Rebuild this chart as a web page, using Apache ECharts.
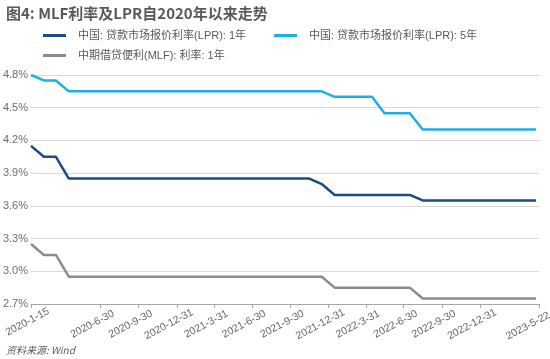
<!DOCTYPE html>
<html><head><meta charset="utf-8">
<script src="https://cdn.jsdelivr.net/npm/echarts@6/dist/echarts.min.js"></script>
<style>html,body{margin:0;padding:0;background:#fff}#c{width:550px;height:359px}</style>
</head><body><div id="c"></div>
<script>
const titleText = '图4: MLF利率及LPR自2020年以来走势';
const sourceText = '资料来源: Wind';
const seriesNames = ['中国: 贷款市场报价利率(LPR): 1年', '中国: 贷款市场报价利率(LPR): 5年', '中期借贷便利(MLF): 利率: 1年'];
const dates = [
 '2020-1-15','2020-2-15','2020-3-15','2020-4-15','2020-5-15','2020-6-15','2020-7-15','2020-8-15','2020-9-15','2020-10-15','2020-11-15','2020-12-15',
 '2021-1-15','2021-2-15','2021-3-15','2021-4-15','2021-5-15','2021-6-15','2021-7-15','2021-8-15','2021-9-15','2021-10-15','2021-11-15','2021-12-15',
 '2022-1-15','2022-2-15','2022-3-15','2022-4-15','2022-5-15','2022-6-15','2022-7-15','2022-8-15','2022-9-15','2022-10-15','2022-11-15','2022-12-15',
 '2023-1-15','2023-2-15','2023-3-15','2023-4-15','2023-5-15'];
const lpr1y = [4.15,4.05,4.05,3.85,3.85,3.85,3.85,3.85,3.85,3.85,3.85,3.85,
 3.85,3.85,3.85,3.85,3.85,3.85,3.85,3.85,3.85,3.85,3.85,3.80,
 3.70,3.70,3.70,3.70,3.70,3.70,3.70,3.65,3.65,3.65,3.65,3.65,
 3.65,3.65,3.65,3.65,3.65];
const lpr5y = [4.80,4.75,4.75,4.65,4.65,4.65,4.65,4.65,4.65,4.65,4.65,4.65,
 4.65,4.65,4.65,4.65,4.65,4.65,4.65,4.65,4.65,4.65,4.65,4.65,
 4.60,4.60,4.60,4.60,4.45,4.45,4.45,4.30,4.30,4.30,4.30,4.30,
 4.30,4.30,4.30,4.30,4.30];
const mlf1y = [3.25,3.15,3.15,2.95,2.95,2.95,2.95,2.95,2.95,2.95,2.95,2.95,
 2.95,2.95,2.95,2.95,2.95,2.95,2.95,2.95,2.95,2.95,2.95,2.95,
 2.85,2.85,2.85,2.85,2.85,2.85,2.85,2.75,2.75,2.75,2.75,2.75,
 2.75,2.75,2.75,2.75,2.75];
const tickLabels = ['2020-1-15','2020-6-30','2020-9-30','2020-12-31','2021-3-31','2021-6-30','2021-9-30','2021-12-31','2022-3-31','2022-6-30','2022-9-30','2022-12-31','2023-5-22'];
const yMin = 2.7, yMax = 4.8, yStep = 0.3;
const colors = ['#1b4a85', '#1eafe3', '#8c8c8c'];

function ts(s){const p=s.split('-').map(Number);return Date.UTC(p[0],p[1]-1,p[2]);}
const tickTs = tickLabels.map(ts);
const labelMap = {}; tickLabels.forEach((l,i)=>{labelMap[tickTs[i]]=l;});
function pairs(vals){return dates.map((d,i)=>[ts(d),vals[i]]);}

const font = '"Noto Sans CJK SC", "Noto Sans", sans-serif';
const mixFont = '"Liberation Sans", "Noto Sans CJK SC", sans-serif';
const chart = echarts.init(document.getElementById('c'), null, {renderer:'canvas'});
const legendPos = [{left:38, top:25},{left:269, top:25},{left:38, top:45}];
chart.setOption({
  animation:false,
  textStyle:{fontFamily:font},
  title:[
    {text:titleText, left:1, top:1, textStyle:{fontSize:15, fontWeight:'bold', color:'#595959', fontFamily:font}},
    {text:sourceText, left:1, top:340, textStyle:{fontSize:10, fontWeight:'normal', fontStyle:'italic', color:'#595959', fontFamily:font}}
  ],
  legend: seriesNames.map((n,i)=>({data:[n], left:legendPos[i].left, top:legendPos[i].top, icon:'rect', itemWidth:23, itemHeight:3, itemGap:10,
    textStyle:{fontSize:11, color:'#595959', fontFamily:mixFont, padding:[0,0,0,7]}})),
  grid:{left:31, right:11, top:75, bottom:55, containLabel:false, outerBoundsMode:'none'},
  xAxis:{type:'value', min:tickTs[0], max:tickTs[tickTs.length-1],
    axisLine:{show:true, lineStyle:{color:'#a6a6a6', width:1}},
    axisTick:{show:true, customValues:tickTs, length:4, lineStyle:{color:'#a6a6a6'}},
    splitLine:{show:false},
    axisLabel:{customValues:tickTs, rotate:28, fontSize:10.5, color:'#666', margin:16, fontFamily:'"Liberation Sans", sans-serif',
      align:'center', verticalAlign:'middle', padding:[0,18,0,0], hideOverlap:false,
      rich:{
        s:{fontSize:10.5, color:'#666', fontFamily:'"Liberation Sans", sans-serif', padding:[0,0,0,10]},
        e:{fontSize:10.5, color:'#666', fontFamily:'"Liberation Sans", sans-serif', padding:[0,7,0,0]}
      },
      formatter:v=>{
        const l = labelMap[v]||'';
        if (v===tickTs[0]) return '{s|'+l+'}';
        if (v===tickTs[tickTs.length-1]) return '{e|'+l+'}';
        return l;
      }}},
  yAxis:{type:'value', min:yMin, max:yMax, interval:yStep,
    axisLine:{show:false}, axisTick:{show:false},
    splitLine:{lineStyle:{color:'#d9d9d9', width:1}},
    axisLabel:{fontSize:11, color:'#6e6e6e', margin:3, fontFamily:'"Liberation Sans", sans-serif', formatter:v=>v.toFixed(1)+'%'}},
  series:[
    {name:seriesNames[0], type:'line', data:pairs(lpr1y), showSymbol:false, symbol:'none', color:colors[0], lineStyle:{width:2.5, color:colors[0]}},
    {name:seriesNames[1], type:'line', data:pairs(lpr5y), showSymbol:false, symbol:'none', color:colors[1], lineStyle:{width:2.5, color:colors[1]}},
    {name:seriesNames[2], type:'line', data:pairs(mlf1y), showSymbol:false, symbol:'none', color:colors[2], lineStyle:{width:2.5, color:colors[2]}}
  ]
});
</script></body></html>
